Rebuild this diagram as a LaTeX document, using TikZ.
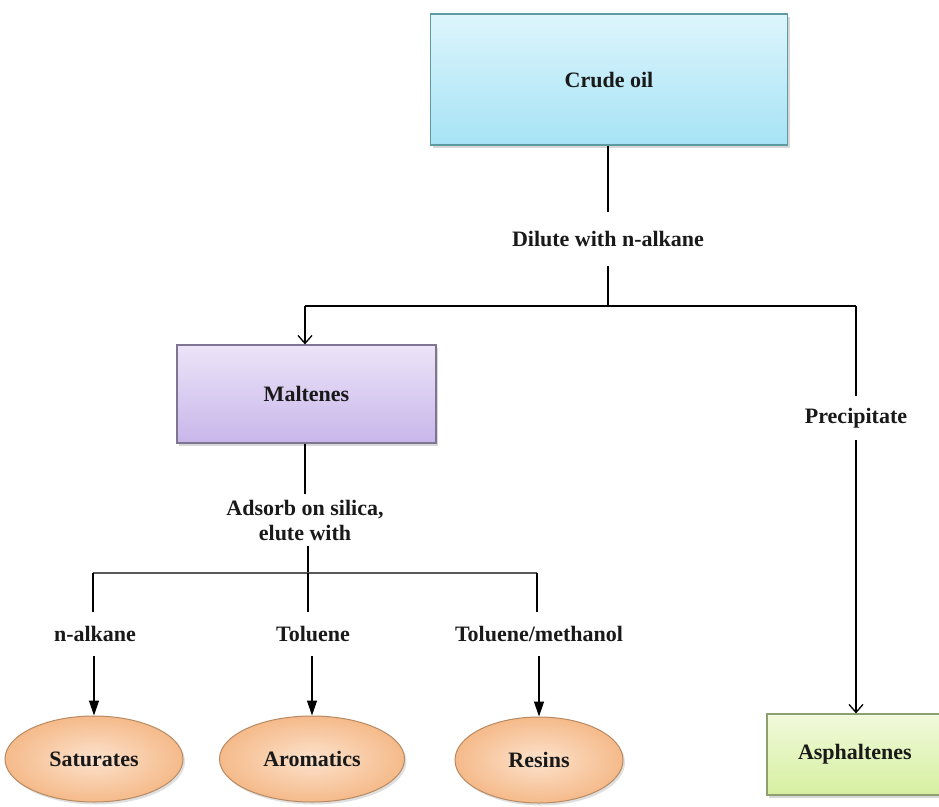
\documentclass[tikz,border=0pt]{standalone}
\usepackage{fontspec}
\setmainfont{Liberation Serif}
\usetikzlibrary{arrows.meta,shapes.geometric,shadows}
\definecolor{cyanTop}{HTML}{DDF5FC}
\definecolor{cyanBot}{HTML}{A6E3F5}
\definecolor{cyanLine}{HTML}{5E9AA0}
\definecolor{malTop}{HTML}{ECE4F8}
\definecolor{malBot}{HTML}{C8B6EA}
\definecolor{malLine}{HTML}{7E7590}
\definecolor{oraIn}{HTML}{FCE2CC}
\definecolor{oraOut}{HTML}{F5BA8A}
\definecolor{oraLine}{HTML}{B88A62}
\definecolor{grnTop}{HTML}{F1FADB}
\definecolor{grnBot}{HTML}{D5EFA0}
\definecolor{grnLine}{HTML}{8E9F72}
\definecolor{barGray}{HTML}{5A5A5A}
\tikzset{
  lbl/.style={font=\fontsize{22}{25}\selectfont\bfseries, text=black!90, align=center, inner xsep=2pt},
  boxnode/.style={rectangle, line width=1.2pt, lbl,
    drop shadow={shadow xshift=2pt, shadow yshift=-2.5pt, opacity=.3}},
  ellnode/.style={ellipse, line width=1pt, draw=oraLine, inner color=oraIn, outer color=oraOut, lbl,
    drop shadow={shadow xshift=2pt, shadow yshift=-2.5pt, opacity=.25}},
  conn/.style={line width=1.3pt, black},
  openarr/.style={conn, -{Straight Barb[length=8pt,width=14pt,line width=1.3pt]}},
  fillarr/.style={conn, -{Triangle[length=15pt,width=10pt]}},
}
\begin{document}
\begin{tikzpicture}[x=1pt,y=-1pt]
\useasboundingbox (0,0) rectangle (939,806);
\fill[white] (0,0) rectangle (939,806);

% boxes
\node[boxnode, draw=cyanLine, top color=cyanTop, bottom color=cyanBot,
      minimum width=357pt, minimum height=131pt] (crude) at (609,79.5) {Crude oil};
\node[boxnode, draw=malLine, top color=malTop, bottom color=malBot,
      minimum width=259pt, minimum height=98pt] (mal) at (306.5,394) {Maltenes};
\node[boxnode, draw=grnLine, top color=grnTop, bottom color=grnBot,
      minimum width=220pt, minimum height=81pt, text width=210pt, align=left] (asph) at (877,754.5) {\hspace{26pt}Asphaltenes};

% ellipses
\node[ellnode, minimum width=178pt, minimum height=86pt, inner sep=0pt] (sat) at (94,759) {Saturates};
\node[ellnode, minimum width=185pt, minimum height=86pt, inner sep=0pt] (aro) at (312,759) {Aromatics};
\node[ellnode, minimum width=168pt, minimum height=86pt, inner sep=0pt] (res) at (539,760) {Resins};

% labels
\node[lbl, inner ysep=19pt] (dil) at (608,239) {Dilute with n-alkane};
\node[lbl, inner ysep=12pt] (prec) at (856,418) {Precipitate};
\node[lbl, inner ysep=6pt] (ads) at (305,520) {Adsorb on silica,\\elute with};
\node[lbl, inner ysep=14pt] (nalk) at (95,634) {n-alkane};
\node[lbl, inner ysep=14pt] (tol) at (313,634) {Toluene};
\node[lbl, inner ysep=14pt] (tolm) at (539,634) {Toluene/methanol};

% coordinates
\coordinate (sp) at (608,306);
\coordinate (spL) at (305,306);
\coordinate (spR) at (856,306);
\coordinate (bc) at (308,573);
\coordinate (bl) at (93,573);
\coordinate (br) at (537,573);

% connectors
\draw[conn] (crude.south -| dil) -- (dil.north);
\draw[conn] (dil.south) -- (sp);
\draw[conn] (spL) -- (spR);
\draw[openarr] (spL) -- (spL |- mal.north);
\draw[conn] (spR) -- (prec.north);
\draw[openarr] (prec.south) -- (prec.south |- asph.north);

\draw[conn] (mal.south -| ads) -- (ads.north);
\draw[conn] (ads.south -| bc) -- (bc);
\draw[line width=2.5pt, barGray] (bl) -- (br);
\draw[conn] (bl) -- (bl |- nalk.north);
\draw[conn] (bc) -- (bc |- tol.north);
\draw[conn] (br) -- (br |- tolm.north);

\draw[fillarr] (nalk.south -| sat) -- (sat.north);
\draw[fillarr] (tol.south -| aro) -- (aro.north);
\draw[fillarr] (tolm.south -| res) -- (res.north);
\end{tikzpicture}
\end{document}
